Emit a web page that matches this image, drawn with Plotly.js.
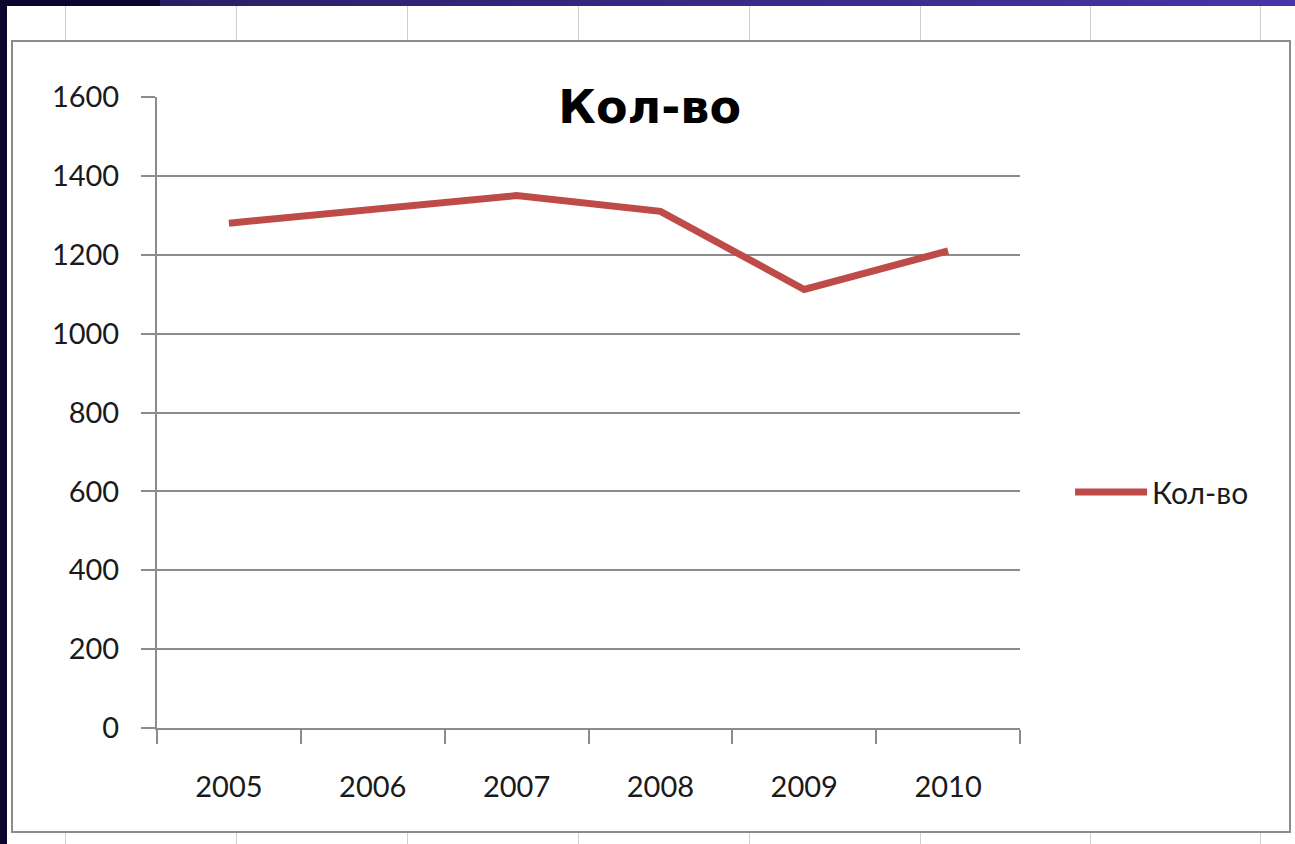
<!DOCTYPE html>
<html>
<head>
<meta charset="utf-8">
<script src="https://cdn.plot.ly/plotly-3.0.1.min.js"></script>
<style>
  html, body { margin: 0; padding: 0; width: 1295px; height: 844px; overflow: hidden; background: #0a0630; }
  #topband { position: absolute; left: 160px; top: 0; width: 1135px; height: 6px;
             background: linear-gradient(to right, #2a1f66, #3a2c8c 60%, #4535a8); }
  #sheet { position: absolute; left: 7px; top: 6px; width: 1288px; height: 838px; background: #ffffff; }
  .vline { position: absolute; top: 0; width: 1px; height: 838px; background: #cfcfcf; }
  #chart { position: absolute; left: 11px; top: 40px; width: 1276px; height: 789px;
           border: 2px solid #8c8c8c; background: #fff; }
</style>
</head>
<body>
<div id="topband"></div>
<div id="sheet"></div>
<div id="chart"></div>
<script>
// Data
const years = ['2005', '2006', '2007', '2008', '2009', '2010'];
const kolvo = [1280, 1315, 1350, 1310, 1112, 1210];
const seriesName = 'Кол-во';
const chartTitle = 'Кол-во';

// spreadsheet cell lines in the background
const sheet = document.getElementById('sheet');
[58, 229, 400, 571, 742, 913, 1083, 1253].forEach(function (x) {
  const d = document.createElement('div');
  d.className = 'vline';
  d.style.left = x + 'px';
  sheet.appendChild(d);
});

const font = 'Lato, "Open Sans", sans-serif';
const trace = {
  x: years,
  y: kolvo,
  type: 'scatter',
  mode: 'lines',
  name: seriesName,
  line: { color: '#be4b48', width: 7 }
};

const layout = {
  width: 1276,
  height: 789,
  margin: { l: 144, r: 269, t: 55, b: 103 },
  paper_bgcolor: '#ffffff',
  plot_bgcolor: '#ffffff',
  font: { family: font, color: '#1a1a1a', size: 29 },
  title: {
    text: chartTitle,
    xref: 'container', yref: 'container',
    x: 0.499, y: 0.918, xanchor: 'center', yanchor: 'middle',
    font: { family: '"DejaVu Sans", sans-serif', size: 46, color: '#000000', weight: 'bold' }
  },
  xaxis: {
    type: 'category',
    range: [-0.5, years.length - 0.5],
    showgrid: false,
    showline: true, linecolor: '#8c8c8c', linewidth: 2,
    ticks: 'outside', tickson: 'boundaries', ticklen: 14, tickcolor: '#8c8c8c', tickwidth: 2,
    tickfont: { family: font, size: 29, color: '#1a1a1a' },
    ticklabelstandoff: 32,
    zeroline: false,
    fixedrange: true
  },
  yaxis: {
    range: [0, 1600],
    dtick: 200,
    tick0: 0,
    showgrid: true, gridcolor: '#8c8c8c', gridwidth: 2,
    showline: true, linecolor: '#8c8c8c', linewidth: 2,
    ticks: 'outside', ticklen: 14, tickcolor: '#8c8c8c', tickwidth: 2,
    tickfont: { family: font, size: 29, color: '#1a1a1a' },
    ticklabelstandoff: 16,
    zeroline: false,
    fixedrange: true
  },
  showlegend: true,
  legend: {
    x: 1.058, y: 0.374, xanchor: 'left', yanchor: 'middle',
    font: { family: font, size: 30, color: '#1a1a1a' },
    bgcolor: 'rgba(0,0,0,0)',
    itemwidth: 72
  }
};

Plotly.newPlot('chart', [trace], layout, { displayModeBar: false, staticPlot: true });
</script>
</body>
</html>
